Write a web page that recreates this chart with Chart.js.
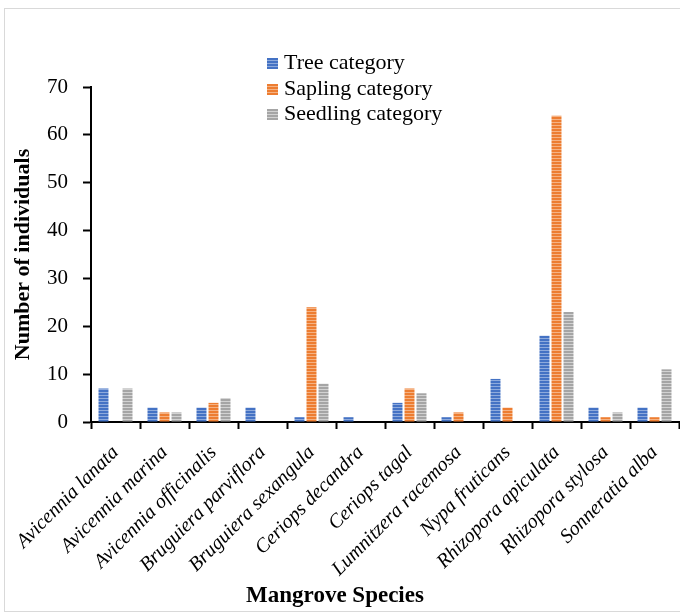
<!DOCTYPE html>
<html>
<head>
<meta charset="utf-8">
<script src="https://cdn.jsdelivr.net/npm/chart.js@4.4.1/dist/chart.umd.min.js"></script>
<style>
  html, body { margin: 0; padding: 0; background: #fff; }
  #wrap { position: relative; width: 680px; height: 615px; overflow: hidden; }
  #frame { position: absolute; left: 4px; top: 8px; width: 700px; height: 604px; border: 1.5px solid #d9d9d9; box-sizing: border-box; }
  #chart { position: absolute; left: 0; top: 0; }
  #legend { position: absolute; left: 267px; top: 49px; font-family: 'Liberation Serif', serif; font-size: 22px; color: #000; }
  #legend div { height: 25.5px; line-height: 25.5px; white-space: nowrap; }
  #legend span.box { display: inline-block; width: 11px; height: 11px; margin-right: 6px; vertical-align: 0px; }
  #xtitle { position: absolute; left: 0; width: 670px; top: 582px; text-align: center; font-family: 'Liberation Serif', serif; font-weight: bold; font-size: 23px; }
</style>
</head>
<body>
<div id="wrap">
  <div id="frame"></div>
  <canvas id="chart" width="680" height="615"></canvas>
  <div id="legend"></div>
  <div id="xtitle">Mangrove Species</div>
</div>
<script>
const species = ['Avicennia lanata', 'Avicennia marina', 'Avicennia officinalis', 'Bruguiera parviflora',
  'Bruguiera sexangula', 'Ceriops decandra', 'Ceriops tagal', 'Lumnitzera racemosa',
  'Nypa fruticans', 'Rhizopora apiculata', 'Rhizopora stylosa', 'Sonneratia alba'];
const treeValues = [7, 3, 3, 3, 1, 1, 4, 1, 9, 18, 3, 3];
const saplingValues = [0, 2, 4, 0, 24, 0, 7, 2, 3, 64, 1, 1];
const seedlingValues = [7, 2, 5, 0, 8, 0, 6, 0, 0, 23, 2, 11];
const yTicks = [0, 10, 20, 30, 40, 50, 60, 70];

const serif = "'Liberation Serif', serif";

function stripes(base, light) {
  const c = document.createElement('canvas');
  c.width = 4; c.height = 3;
  const g = c.getContext('2d');
  g.fillStyle = base; g.fillRect(0, 0, 4, 2);
  g.fillStyle = light; g.fillRect(0, 2, 4, 1);
  return g.createPattern(c, 'repeat');
}

const series = [
  { label: 'Tree category', data: treeValues, base: '#4472C4', light: '#8eaadc' },
  { label: 'Sapling category', data: saplingValues, base: '#ED7D31', light: '#f5b283' },
  { label: 'Seedling category', data: seedlingValues, base: '#A5A5A5', light: '#d2d2d2' },
];

document.getElementById('legend').innerHTML = series.map((s) =>
  `<div><span class="box" style="background:repeating-linear-gradient(${s.base} 0 2px, ${s.light} 2px 3px)"></span>${s.label}</div>`).join('');

new Chart(document.getElementById('chart'), {
  type: 'bar',
  data: {
    labels: species,
    datasets: series.map((s) => ({
      label: s.label,
      data: s.data,
      backgroundColor: stripes(s.base, s.light),
      borderWidth: 0,
      barPercentage: 0.83,
      categoryPercentage: 0.735,
    })),
  },
  options: {
    responsive: false,
    animation: false,
    layout: { padding: { left: 0, right: 1, top: 87, bottom: 0 } },
    plugins: { legend: { display: false }, tooltip: { enabled: false } },
    scales: {
      x: {
        afterFit: (scale) => { scale.height = 193; scale.paddingRight = 0; },
        grid: { drawOnChartArea: false, drawTicks: true, tickLength: 7, tickColor: '#000', tickWidth: 2, offset: true },
        border: { color: '#000', width: 2 },
        ticks: {
          autoSkip: false, minRotation: 45, maxRotation: 45, padding: 12,
          color: '#000', font: { family: serif, size: 20, style: 'italic' },
        },
      },
      y: {
        min: 0, max: 70,
        afterFit: (scale) => { scale.width = 91; },
        afterBuildTicks: (scale) => { scale.ticks = yTicks.map((v) => ({ value: v })); },
        grid: { drawOnChartArea: false, drawTicks: true, tickLength: 8, tickColor: '#000', tickWidth: 2 },
        border: { color: '#000', width: 2 },
        ticks: { padding: 15, color: '#000', font: { family: serif, size: 21 } },
        title: {
          display: true, text: 'Number of individuals', color: '#000',
          padding: { top: 10, bottom: 0 },
          font: { family: serif, size: 22, weight: 'bold' },
        },
      },
    },
  },
});
</script>
</body>
</html>
